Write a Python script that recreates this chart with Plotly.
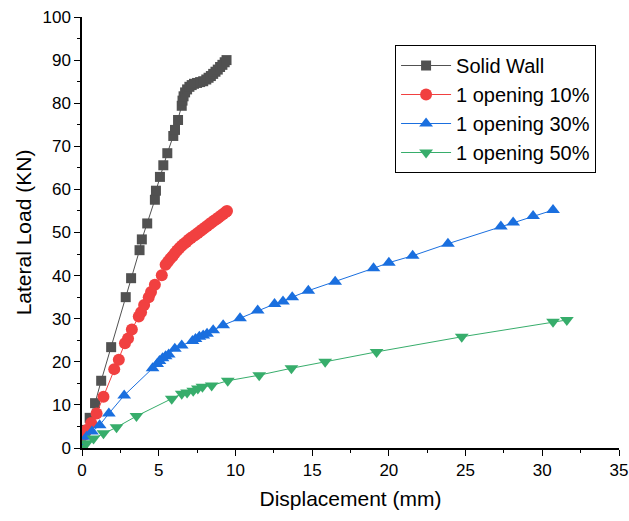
import plotly.graph_objects as go

solid_x = [0, 0.25, 0.5, 0.85, 1.25, 1.9, 2.85, 3.2, 3.75, 3.9, 4.25, 4.75, 4.82, 5.08, 5.3, 5.56, 5.95, 6.06, 6.26, 6.5, 6.55, 6.62, 6.72, 6.85, 7.0, 7.15, 7.3, 7.5, 7.7, 7.9, 8.1, 8.25, 8.4, 8.55, 8.7, 8.85, 9.0, 9.15, 9.3, 9.42]
solid_y = [0, 4.2, 7.0, 10.4, 15.6, 23.4, 35.0, 39.4, 45.9, 48.4, 52.1, 57.6, 59.7, 62.9, 65.6, 68.4, 72.4, 73.8, 76.1, 79.4, 80.6, 81.6, 82.5, 83.2, 83.8, 84.2, 84.5, 84.7, 84.9, 85.1, 85.5, 85.9, 86.3, 86.8, 87.3, 87.8, 88.4, 88.9, 89.5, 90.0]

o10_x = [0, 0.1, 0.3, 0.6, 0.95, 1.4, 2.1, 2.4, 2.8, 3.0, 3.25, 3.7, 3.85, 4.05, 4.35, 4.5, 4.75, 5.2, 5.45, 5.6, 5.75, 5.9, 6.05, 6.2, 6.35, 6.5, 6.65, 6.8, 6.95, 7.1, 7.25, 7.4, 7.55, 7.7, 7.85, 8.0, 8.15, 8.3, 8.45, 8.6, 8.75, 8.9, 9.05, 9.2, 9.35, 9.45]
o10_y = [0, 3.0, 4.2, 5.8, 8.0, 11.9, 18.3, 20.5, 24.3, 25.4, 27.5, 30.5, 31.5, 33.2, 35.0, 36.2, 37.9, 40.1, 42.5, 43.2, 43.9, 44.5, 45.2, 45.8, 46.4, 46.9, 47.4, 47.8, 48.3, 48.7, 49.1, 49.5, 49.9, 50.3, 50.7, 51.1, 51.5, 51.9, 52.3, 52.7, 53.1, 53.5, 53.9, 54.3, 54.7, 55.0]

o30_x = [0, 0.3, 0.65, 1.15, 1.75, 2.75, 4.6, 4.9, 5.05, 5.25, 5.45, 5.65, 6.05, 6.5, 7.2, 7.4, 7.65, 7.9, 8.15, 8.55, 9.2, 10.3, 11.45, 12.55, 13.1, 13.7, 14.75, 16.5, 19.0, 20.0, 21.55, 23.85, 27.3, 28.1, 29.4, 30.7]
o30_y = [0, 2.6, 3.8, 5.3, 8.0, 12.2, 18.5, 19.5, 20.2, 20.8, 21.3, 21.7, 23.0, 23.8, 24.8, 25.3, 25.8, 26.1, 26.5, 27.3, 28.5, 30.1, 31.9, 33.4, 34.0, 35.0, 36.5, 38.6, 41.7, 43.0, 44.6, 47.4, 51.4, 52.3, 53.8, 55.2]

o50_x = [0, 0.3, 0.75, 1.4, 2.25, 3.55, 5.85, 6.5, 6.85, 7.25, 7.55, 7.85, 8.45, 9.5, 11.55, 13.65, 15.85, 19.2, 24.75, 30.7, 31.6]
o50_y = [0, 1.1, 2.2, 3.4, 4.8, 7.4, 11.4, 12.6, 12.9, 13.3, 13.8, 14.2, 14.5, 15.6, 16.9, 18.5, 20.0, 22.3, 25.8, 29.3, 29.7]

names = ["Solid Wall", "1 opening 10%", "1 opening 30%", "1 opening 50%"]
colors = ["#515151", "#F14040", "#1A6FDF", "#37AD6B"]
symbols = ["square", "circle", "triangle-up", "triangle-down"]
sizes = [10, 12, 12, 12]
xs = [solid_x, o10_x, o30_x, o50_x]
ys = [solid_y, o10_y, o30_y, o50_y]

FONT = "Liberation Sans, Arial"

fig = go.Figure()
for i in range(4):
    fig.add_trace(go.Scatter(
        x=xs[i], y=ys[i], name=names[i], mode="lines+markers",
        line=dict(color=colors[i], width=1),
        marker=dict(color=colors[i], symbol=symbols[i], size=sizes[i], line=dict(width=0)),
    ))

axis_common = dict(
    showline=True, linecolor="black", linewidth=1.5, mirror=False,
    ticks="outside", ticklen=6, tickwidth=1.2, tickcolor="black",
    showgrid=False, zeroline=False, automargin=False,
    tickfont=dict(family=FONT, size=17, color="black"),
)

fig.update_xaxes(range=[0, 35], dtick=5, tick0=0,
                 minor=dict(dtick=2.5, ticks="outside", ticklen=3, tickcolor="black", tickwidth=1),
                 title=dict(text="Displacement (mm)", font=dict(family=FONT, size=21, color="black"), standoff=12),
                 **axis_common)
fig.update_yaxes(range=[0, 100], dtick=10, tick0=0,
                 minor=dict(dtick=5, ticks="outside", ticklen=3, tickcolor="black", tickwidth=1),
                 title=dict(text="Lateral Load (KN)", font=dict(family=FONT, size=21, color="black"), standoff=5),
                 **axis_common)

fig.update_layout(
    width=629, height=521,
    margin=dict(l=82, r=10, t=17, b=73),
    plot_bgcolor="white", paper_bgcolor="white",
    showlegend=True,
    legend=dict(x=0.583, y=0.935, xanchor="left", yanchor="top",
                bordercolor="black", borderwidth=1, bgcolor="white",
                font=dict(family=FONT, size=20, color="black"),
                tracegroupgap=0, itemwidth=50),
)

fig.write_html("out.html")
